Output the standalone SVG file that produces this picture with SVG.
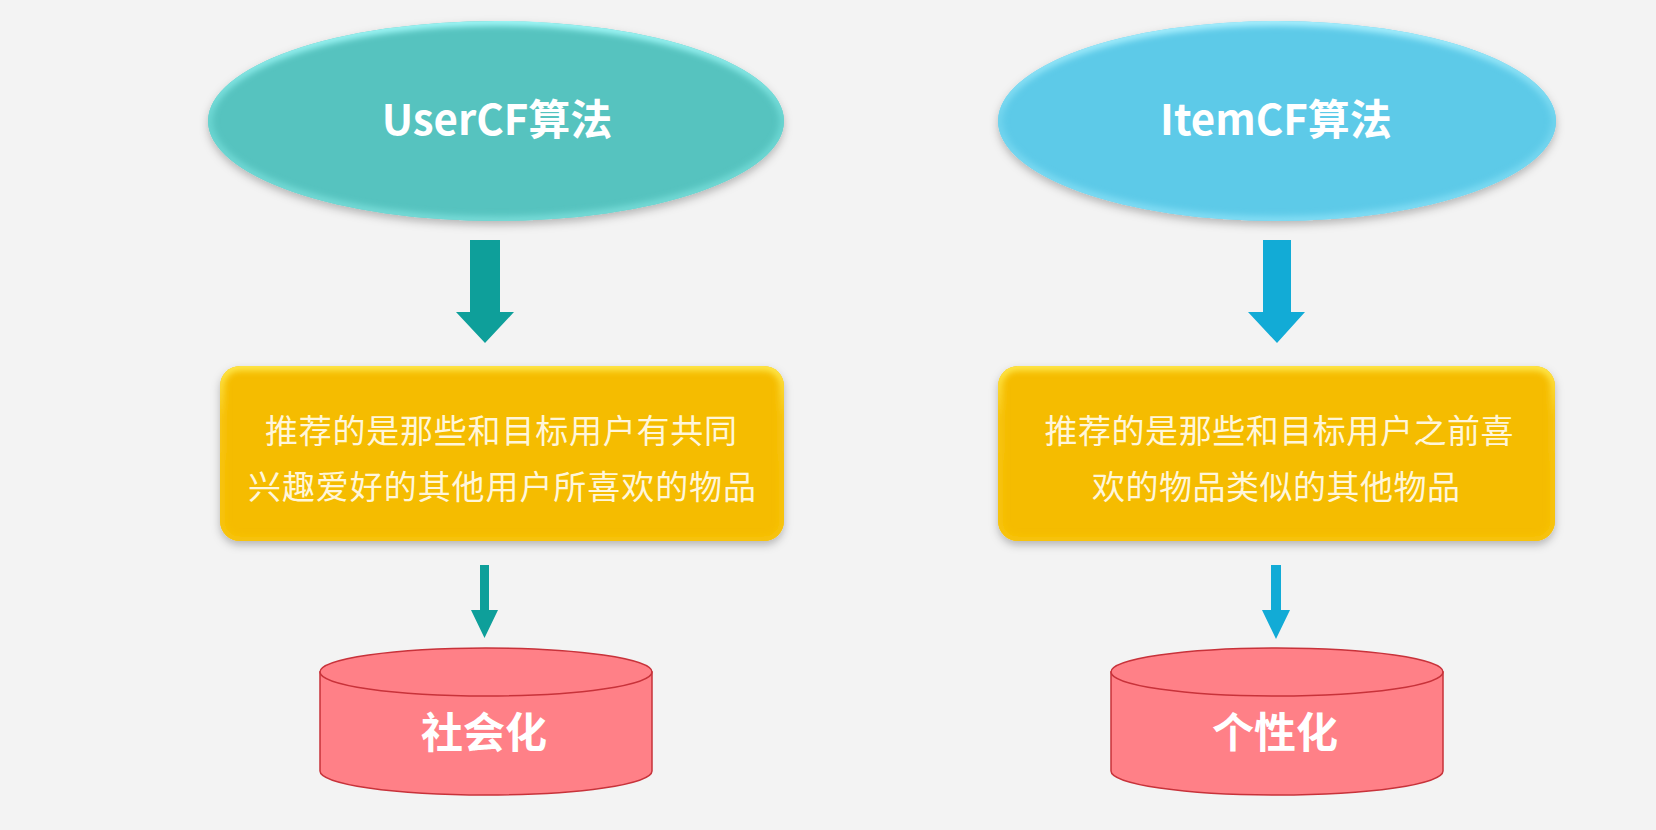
<svg xmlns="http://www.w3.org/2000/svg" width="1656" height="830" viewBox="0 0 1656 830">
<defs>
  <filter id="shadow" x="-10%" y="-20%" width="120%" height="150%">
    <feDropShadow dx="0" dy="4" stdDeviation="4" flood-color="#000" flood-opacity="0.25"/>
  </filter>
  <filter id="soft" x="-5%" y="-5%" width="110%" height="110%">
    <feGaussianBlur stdDeviation="3"/>
  </filter>
  <clipPath id="clipL"><ellipse cx="496" cy="121" rx="288" ry="100"/></clipPath>
  <clipPath id="clipR"><ellipse cx="1277" cy="121" rx="279" ry="100"/></clipPath>
  <clipPath id="clipBL"><rect x="220" y="366" width="564" height="175" rx="20" ry="20"/></clipPath>
  <clipPath id="clipBR"><rect x="998" y="366" width="557" height="175" rx="20" ry="20"/></clipPath>
  <linearGradient id="tealEdge" x1="0" y1="0" x2="0" y2="1">
    <stop offset="0" stop-color="#A6FBFB"/>
    <stop offset="0.5" stop-color="#6AD6D2"/>
    <stop offset="1" stop-color="#78DCD8"/>
  </linearGradient>
  <linearGradient id="blueEdge" x1="0" y1="0" x2="0" y2="1">
    <stop offset="0" stop-color="#AEF2FF"/>
    <stop offset="0.5" stop-color="#70D4EE"/>
    <stop offset="1" stop-color="#84DEF5"/>
  </linearGradient>
  <linearGradient id="yellowEdge" x1="0" y1="0" x2="0" y2="1">
    <stop offset="0" stop-color="#FFEA50"/>
    <stop offset="0.3" stop-color="#F8C614"/>
    <stop offset="1" stop-color="#F8C40C"/>
  </linearGradient>
  <style>
    .bg { fill: #F3F3F3; }
    .title { font-family: "Noto Sans CJK SC", "Liberation Sans", sans-serif; font-weight: bold; font-size: 42px; fill: #FFFFFF; text-anchor: middle; }
    .body { font-family: "Noto Sans CJK SC", sans-serif; font-size: 33px; fill: #FFF6DA; text-anchor: middle; }
    .cyl { font-family: "Noto Sans CJK SC", sans-serif; font-weight: bold; font-size: 42px; fill: #FFFFFF; text-anchor: middle; }
    .cylside { fill: #FF8087; stroke: #C8323A; stroke-width: 1.5; }
    .teal { fill: #0E9F9A; }
    .blue { fill: #12ABD6; }
  </style>
</defs>
<rect class="bg" x="0" y="0" width="1656" height="830"/>

<g id="usercf">
  <ellipse cx="496" cy="121" rx="288" ry="100" fill="#56C3BF" filter="url(#shadow)"/>
  <g clip-path="url(#clipL)">
    <ellipse cx="496" cy="121" rx="288" ry="100" fill="none" stroke="url(#tealEdge)" stroke-width="9" filter="url(#soft)"/>
  </g>
  <text class="title" x="497" y="135">UserCF算法</text>
</g>

<g id="itemcf">
  <ellipse cx="1277" cy="121" rx="279" ry="100" fill="#5DCAE8" filter="url(#shadow)"/>
  <g clip-path="url(#clipR)">
    <ellipse cx="1277" cy="121" rx="279" ry="100" fill="none" stroke="url(#blueEdge)" stroke-width="9" filter="url(#soft)"/>
  </g>
  <text class="title" x="1276" y="135">ItemCF算法</text>
</g>

<g id="userdesc">
  <rect x="220" y="366" width="564" height="175" rx="20" ry="20" fill="#F5BC05" filter="url(#shadow)"/>
  <g clip-path="url(#clipBL)">
    <rect x="220" y="366" width="564" height="175" rx="20" ry="20" fill="none" stroke="url(#yellowEdge)" stroke-width="9" filter="url(#soft)"/>
  </g>
  <text class="body" x="501" y="443" textLength="472" lengthAdjust="spacing">推荐的是那些和目标用户有共同</text>
  <text class="body" x="502" y="499" textLength="508" lengthAdjust="spacing">兴趣爱好的其他用户所喜欢的物品</text>
</g>

<g id="itemdesc">
  <rect x="998" y="366" width="557" height="175" rx="20" ry="20" fill="#F5BC05" filter="url(#shadow)"/>
  <g clip-path="url(#clipBR)">
    <rect x="998" y="366" width="557" height="175" rx="20" ry="20" fill="none" stroke="url(#yellowEdge)" stroke-width="9" filter="url(#soft)"/>
  </g>
  <text class="body" x="1279" y="443" textLength="469" lengthAdjust="spacing">推荐的是那些和目标用户之前喜</text>
  <text class="body" x="1276" y="499" textLength="368" lengthAdjust="spacing">欢的物品类似的其他物品</text>
</g>

<g id="social">
  <path class="cylside" d="M320 672 L320 771 A166 24 0 0 0 652 771 L652 672 Z"/>
  <ellipse class="cylside" cx="486" cy="672" rx="166" ry="24"/>
  <text class="cyl" x="484" y="748">社会化</text>
</g>

<g id="personal">
  <path class="cylside" d="M1111 672 L1111 771 A166 24 0 0 0 1443 771 L1443 672 Z"/>
  <ellipse class="cylside" cx="1277" cy="672" rx="166" ry="24"/>
  <text class="cyl" x="1275" y="748">个性化</text>
</g>

<g id="connectors">
  <polygon class="teal" points="470,240 500,240 500,312 514,312 485,343 456,312 470,312"/>
  <polygon class="blue" points="1263,240 1291,240 1291,312 1305,312 1277,343 1248,312 1263,312"/>
  <polygon class="teal" points="480,565 489,565 489,610 498,610 484.5,638 471,610 480,610"/>
  <polygon class="blue" points="1271,565 1281,565 1281,610 1290,610 1276,639 1262,610 1271,610"/>
</g>
</svg>
